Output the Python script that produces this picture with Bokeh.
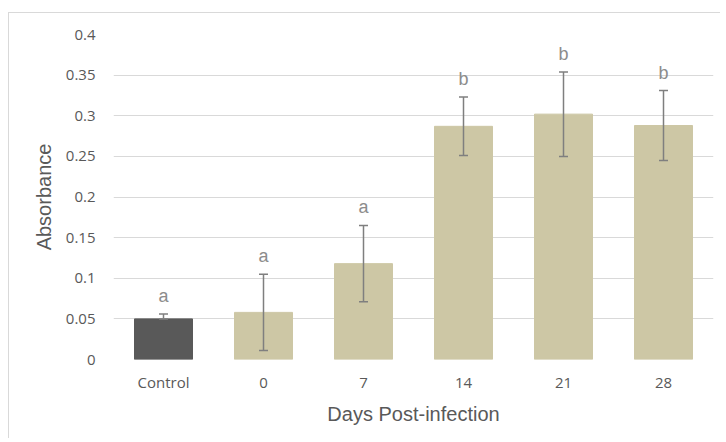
from bokeh.plotting import figure
from bokeh.models import ColumnDataSource, FixedTicker, CustomJSTickFormatter, Whisker, Range1d
from bokeh.core.properties import value
from bokeh.embed import file_html
from bokeh.resources import INLINE

# data
categories = ["Control", "0", "7", "14", "21", "28"]
means = [0.050, 0.058, 0.118, 0.287, 0.302, 0.288]
errors = [0.006, 0.047, 0.047, 0.036, 0.052, 0.043]
letters = ["a", "a", "a", "b", "b", "b"]
y_ticks = [0, 0.05, 0.1, 0.15, 0.2, 0.25, 0.3, 0.35, 0.4]

CONTROL_COLOR = "#595959"
BAR_COLOR = "#cdc7a5"
colors = [CONTROL_COLOR if c == "Control" else BAR_COLOR for c in categories]

# in the reference the control's lower error arm is hidden in its dark bar
lower = [m if c == "Control" else m - e for c, m, e in zip(categories, means, errors)]

src = ColumnDataSource(dict(
    x=categories, top=means,
    upper=[m + e for m, e in zip(means, errors)],
    lower=lower,
    letter=letters, color=colors,
))

p = figure(x_range=categories, y_range=Range1d(0, 0.4), width=712, height=426,
           output_backend="svg", toolbar_location=None,
           min_border_left=104, min_border_right=8, min_border_top=21, min_border_bottom=80)
p.styles = {"border-top": "1px solid #d9d9d9", "border-left": "1px solid #d9d9d9",
            "margin-top": "12px", "margin-left": "8px"}
p.outline_line_color = None
p.background_fill_color = "white"
p.border_fill_color = "white"

p.vbar(x="x", top="top", width=0.58, color="color", source=src)
w = Whisker(base="x", upper="upper", lower="lower", source=src,
            line_color="#7f7f7f", line_width=1.5, level="overlay")
w.upper_head.size = 9
w.lower_head.size = 9
w.upper_head.line_color = "#7f7f7f"
w.lower_head.line_color = "#7f7f7f"
w.upper_head.line_width = 1.5
w.lower_head.line_width = 1.5
p.add_layout(w)

p.text(x="x", y="upper", text="letter", source=src, text_align="center",
       text_baseline="alphabetic", y_offset=-18, text_font=value("Liberation Sans"),
       text_font_size="18px", text_color="#8c8c8c")

p.yaxis.ticker = FixedTicker(ticks=y_ticks)
p.yaxis.formatter = CustomJSTickFormatter(code="return parseFloat(tick.toFixed(2)).toString();")
p.ygrid.ticker = FixedTicker(ticks=y_ticks)
p.ygrid.grid_line_color = "#d9d9d9"
p.xgrid.grid_line_color = None

for ax in (p.xaxis, p.yaxis):
    ax.axis_line_color = None
    ax.major_tick_line_color = None
    ax.minor_tick_line_color = None
    ax.major_label_text_font = "Open Sans"
    ax.major_label_text_font_size = "15px"
    ax.major_label_text_color = "#595959"
    ax.axis_label_text_font = "Liberation Sans"
    ax.axis_label_text_font_size = "20px"
    ax.axis_label_text_font_style = "normal"
    ax.axis_label_text_color = "#595959"

p.yaxis.axis_label = "Absorbance"
p.yaxis.major_label_standoff = 12
p.yaxis.axis_label_standoff = 8
p.xaxis.axis_label = "Days Post-infection"
p.xaxis.major_label_standoff = 6
p.xaxis.axis_label_standoff = 8

open("out.html", "w").write(file_html(p, INLINE))
